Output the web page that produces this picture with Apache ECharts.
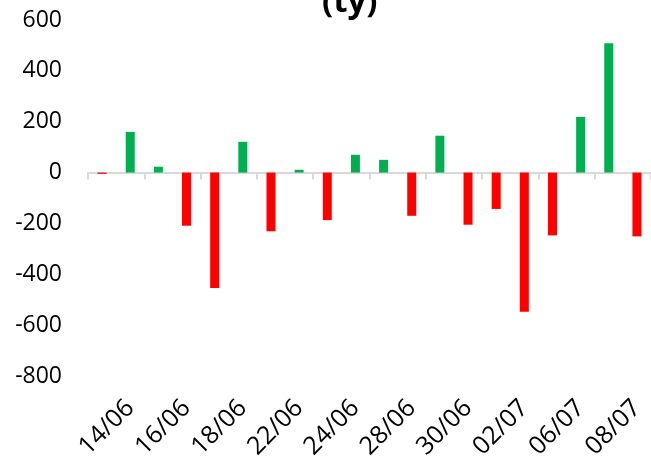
<!DOCTYPE html>
<html>
<head>
<meta charset="utf-8">
<script src="https://cdn.jsdelivr.net/npm/echarts@6/dist/echarts.min.js"></script>
<style>html,body{margin:0;padding:0;background:#fff;}#c{width:651px;height:462px;}</style>
</head>
<body>
<div id="c"></div>
<script>
const titleText = '(ty)';
const categories = ['11/06','14/06','15/06','16/06','17/06','18/06','21/06','22/06','23/06','24/06',
  '25/06','28/06','29/06','30/06','01/07','02/07','05/07','06/07','07/07','08/07'];
const values = [-5, 160, 23, -209, -454, 121, -231, 11, -187, 70,
  50, -170, 145, -205, -143, -547, -247, 219, 509, -251];
const yTicks = { min: -800, max: 600, interval: 200 };

const FONT = '"Open Sans", sans-serif';
const chart = echarts.init(document.getElementById('c'), null, { renderer: 'canvas' });
chart.setOption({
  animation: false,
  backgroundColor: '#ffffff',
  graphic: [{
    type: 'text', left: 322, top: -14,
    style: { text: titleText, font: 'bold 33px ' + FONT, fill: '#000' }
  }],
  grid: { left: 88, top: 20, width: 566, height: 356, containLabel: false },
  xAxis: [{
    type: 'category', data: categories, position: 'bottom',
    axisLine: { onZero: true, lineStyle: { color: '#d9d9d9', width: 2 } },
    axisTick: { show: true, length: 7, lineStyle: { color: '#d9d9d9', width: 2 } },
    axisLabel: { show: false }
  }, {
    type: 'category', data: categories, position: 'bottom',
    axisLine: { show: false, onZero: false }, axisTick: { show: false },
    axisLabel: {
      show: true, rotate: 45, margin: 28, color: '#000', fontSize: 25, fontFamily: FONT,
      interval: function (i) { return i % 2 === 1; }
    }
  }],
  yAxis: {
    type: 'value', min: yTicks.min, max: yTicks.max, interval: yTicks.interval,
    axisLine: { show: false }, axisTick: { show: false }, splitLine: { show: false },
    axisLabel: { color: '#000', fontSize: 23, fontFamily: FONT, margin: 26 }
  },
  series: [{
    type: 'bar', xAxisIndex: 0, barWidth: 9,
    data: values.map(v => ({ value: v, itemStyle: { color: v >= 0 ? '#00b050' : '#ff0000' } }))
  }]
});
</script>
</body>
</html>
